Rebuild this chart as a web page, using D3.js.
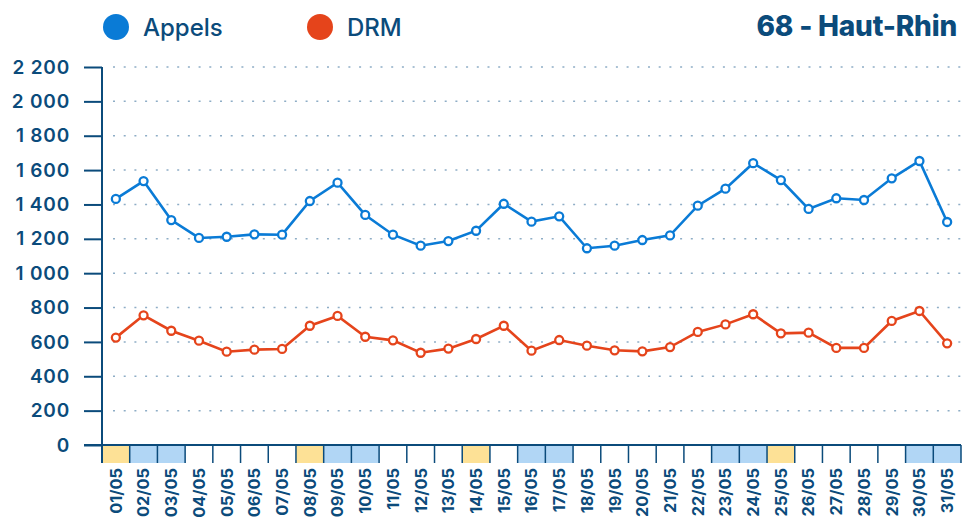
<!DOCTYPE html>
<html>
<head>
<meta charset="utf-8">
<script src="https://cdn.jsdelivr.net/npm/d3@7"></script>
<style>
  body { margin: 0; background: #fff; }
  svg text { font-family: "Inter", "DejaVu Sans", sans-serif; }
</style>
</head>
<body>
<div id="wrapper"></div>
<script>
const days = ["01/05","02/05","03/05","04/05","05/05","06/05","07/05","08/05","09/05","10/05",
  "11/05","12/05","13/05","14/05","15/05","16/05","17/05","18/05","19/05","20/05",
  "21/05","22/05","23/05","24/05","25/05","26/05","27/05","28/05","29/05","30/05","31/05"];
const appels = [1432,1536,1309,1205,1212,1226,1224,1420,1527,1339,1224,1160,1187,1247,1404,1300,
  1331,1145,1160,1193,1220,1393,1492,1640,1542,1374,1436,1426,1552,1653,1298];
const drm = [625,755,665,607,543,555,559,694,751,630,609,537,561,617,694,549,
  611,578,551,545,570,658,702,761,650,654,565,565,722,780,592];
// day type: "f" = public holiday, "w" = weekend, "" = normal
const dayTypes = ["f","w","w","","","","","f","w","w","","","","f","","w","w","","","","","","w","w","f","","","","","w","w"];
const yTicks = [0,200,400,600,800,1000,1200,1400,1600,1800,2000,2200];
const seriesNames = ["Appels","DRM"];
const title = "68 - Haut-Rhin";

const dimensions = {
  width: 962,
  height: 519,
  margin: { top: 67, right: 1, bottom: 74, left: 102 },
};
dimensions.boundedWidth = dimensions.width - dimensions.margin.left - dimensions.margin.right;
dimensions.boundedHeight = dimensions.height - dimensions.margin.top - dimensions.margin.bottom;

const dark = "#0b4b7b";
const colors = { Appels: "#0a7bd6", DRM: "#e5441b" };
const cellColors = { f: "#fde196", w: "#b1d6f5", "": "#ffffff" };

const wrapper = d3.select("#wrapper").append("svg")
  .attr("width", dimensions.width)
  .attr("height", dimensions.height);

const bounds = wrapper.append("g")
  .attr("transform", `translate(${dimensions.margin.left},${dimensions.margin.top})`);

const xScale = d3.scaleBand().domain(days).range([0, dimensions.boundedWidth]).padding(0);
const yScale = d3.scaleLinear().domain([0, 2200]).range([dimensions.boundedHeight, 0]);

// grid
bounds.append("g").selectAll("line").data(yTicks.filter(d => d > 0)).join("line")
  .attr("x1", 11).attr("x2", dimensions.boundedWidth)
  .attr("y1", d => yScale(d)).attr("y2", d => yScale(d))
  .attr("stroke", "#8eadc6").attr("stroke-width", 1.5)
  .attr("stroke-dasharray", "2 8.7");

// y axis
const yAxis = bounds.append("g")
  .call(d3.axisLeft(yScale).tickValues(yTicks).tickSize(18).tickPadding(14)
    .tickFormat(d => d3.format(",")(d).replace(",", " ")));
yAxis.select(".domain").remove();
yAxis.selectAll(".tick line").attr("stroke", dark).attr("stroke-width", 2);
yAxis.selectAll(".tick text")
  .attr("fill", dark).attr("font-size", 19).attr("font-weight", 600)
  .attr("letter-spacing", 0.8)
  .attr("font-family", "Inter, sans-serif");

// day cells
const cellH = 18;
const cells = bounds.append("g").attr("transform", `translate(0,${dimensions.boundedHeight})`);
cells.selectAll("rect").data(days).join("rect")
  .attr("x", d => xScale(d)).attr("y", 0)
  .attr("width", xScale.bandwidth()).attr("height", cellH)
  .attr("fill", (d, i) => cellColors[dayTypes[i]]);
cells.selectAll("line.sep").data(days.concat(["end"])).join("line")
  .attr("class", "sep")
  .attr("x1", (d, i) => i * xScale.bandwidth()).attr("x2", (d, i) => i * xScale.bandwidth())
  .attr("y1", 0).attr("y2", cellH)
  .attr("stroke", dark).attr("stroke-width", 1.5);

// baseline and vertical axis line
bounds.append("line")
  .attr("x1", -18).attr("x2", dimensions.boundedWidth)
  .attr("y1", yScale(0)).attr("y2", yScale(0))
  .attr("stroke", dark).attr("stroke-width", 2);
bounds.append("line")
  .attr("x1", 0).attr("x2", 0)
  .attr("y1", 0).attr("y2", dimensions.boundedHeight + cellH)
  .attr("stroke", dark).attr("stroke-width", 2);

// x labels
const xAxis = bounds.append("g")
  .attr("transform", `translate(0,${dimensions.boundedHeight + cellH})`)
  .call(d3.axisBottom(xScale).tickSize(0).tickPadding(0));
xAxis.select(".domain").remove();
xAxis.selectAll(".tick text")
  .attr("transform", "rotate(-90)")
  .attr("x", -5).attr("y", 0).attr("dy", "0.36em")
  .attr("text-anchor", "end")
  .attr("fill", dark).attr("font-size", 16.3).attr("font-weight", 700)
  .attr("font-family", "DejaVu Sans, sans-serif");

// lines
const series = [
  { name: "Appels", values: appels },
  { name: "DRM", values: drm },
];
const lineGen = d3.line()
  .x((d, i) => xScale(days[i]) + xScale.bandwidth() / 2)
  .y(d => yScale(d));

series.forEach(s => {
  bounds.append("path")
    .datum(s.values)
    .attr("fill", "none")
    .attr("stroke", colors[s.name])
    .attr("stroke-width", 2.6)
    .attr("d", lineGen);
  bounds.append("g").selectAll("circle").data(s.values).join("circle")
    .attr("cx", (d, i) => xScale(days[i]) + xScale.bandwidth() / 2)
    .attr("cy", d => yScale(d))
    .attr("r", 4)
    .attr("fill", "#fff")
    .attr("stroke", colors[s.name])
    .attr("stroke-width", 2.3);
});

// legend
const legend = wrapper.append("g");
const legendX = [116, 320];
seriesNames.forEach((name, i) => {
  legend.append("circle")
    .attr("cx", legendX[i]).attr("cy", 27).attr("r", 13)
    .attr("fill", colors[name]);
  legend.append("text")
    .attr("x", legendX[i] + 27).attr("y", 36)
    .attr("fill", dark).attr("font-size", 24).attr("font-weight", 500)
    .text(name);
});

// title
wrapper.append("text")
  .attr("x", 957).attr("y", 36)
  .attr("text-anchor", "end")
  .attr("fill", dark).attr("font-size", 28).attr("font-weight", 800)
  .attr("letter-spacing", -0.2)
  .text(title);
</script>
</body>
</html>
